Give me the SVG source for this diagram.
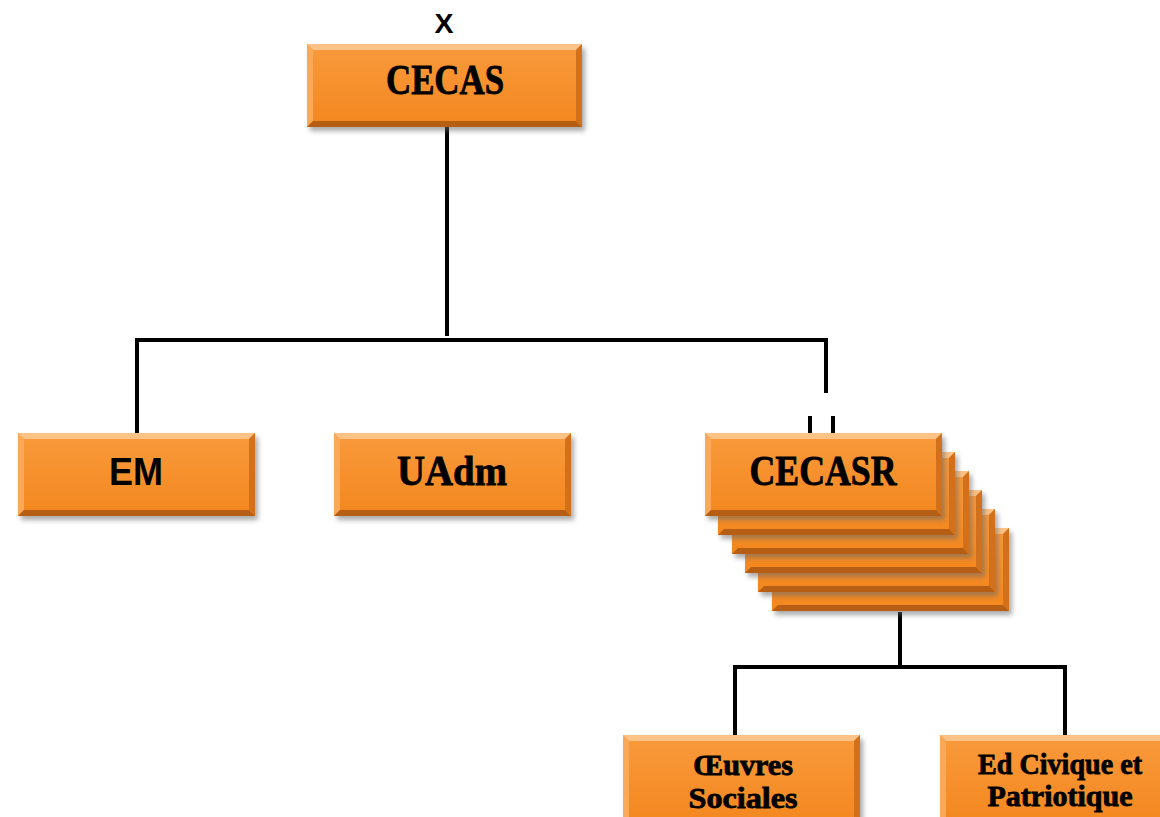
<svg xmlns="http://www.w3.org/2000/svg" width="1160" height="817" viewBox="0 0 1160 817">
<defs>
<linearGradient id="g" x1="0" y1="0" x2="0" y2="1">
<stop offset="0" stop-color="#F99A3C"/>
<stop offset="1" stop-color="#F3871E"/>
</linearGradient>
<filter id="sh" x="-10%" y="-10%" width="130%" height="140%">
<feGaussianBlur stdDeviation="2.5"/>
</filter>
</defs>
<style>
.sh{fill:#666;opacity:0.55;filter:url(#sh)}
.m{fill:url(#g)}
.bt{fill:#FDC285}
.bl{fill:#F9A957}
.br{fill:#D2701B}
.bb{fill:#B75E15}
.ln{stroke:#000;stroke-width:4;fill:none}
.ser{font-family:"Liberation Serif","DejaVu Serif",serif;font-weight:bold;fill:#000;text-anchor:middle;stroke:#000;stroke-width:0.8}
.san{font-family:"Liberation Sans","DejaVu Sans",sans-serif;font-weight:bold;fill:#000;text-anchor:middle}
</style>
<rect width="1160" height="817" fill="#fff"/>
<g id="connectors">
<path class="ln" d="M447 127V336M137 433V340H826V393"/>
<path class="ln" d="M810 416V438M833 416V438"/>
<path class="ln" d="M900 612V667M735 735V667H1065V735"/>
</g>
<g id="x-label"><text class="san" x="444" y="33" font-size="28" textLength="19" lengthAdjust="spacingAndGlyphs">X</text></g>
<g id="cecas">
<rect class="sh" x="310" y="48" width="275" height="83"/>
<rect class="m" x="307" y="44" width="275" height="83"/>
<polygon class="bt" points="307,44 582,44 576,50 313,50"/>
<polygon class="bl" points="307,44 313,50 313,121 307,127"/>
<polygon class="br" points="582,44 582,127 576,121 576,50"/>
<polygon class="bb" points="307,127 582,127 576,121 313,121"/>
<text class="ser" x="445" y="94" font-size="42" textLength="118" lengthAdjust="spacingAndGlyphs">CECAS</text>
</g>
<g id="em">
<rect class="sh" x="21" y="437" width="237" height="83"/>
<rect class="m" x="18" y="433" width="237" height="83"/>
<polygon class="bt" points="18,433 255,433 249,439 24,439"/>
<polygon class="bl" points="18,433 24,439 24,510 18,516"/>
<polygon class="br" points="255,433 255,516 249,510 249,439"/>
<polygon class="bb" points="18,516 255,516 249,510 24,510"/>
<text class="san" x="136" y="485" font-size="39" textLength="54" lengthAdjust="spacingAndGlyphs">EM</text>
</g>
<g id="uadm">
<rect class="sh" x="337" y="437" width="237" height="83"/>
<rect class="m" x="334" y="433" width="237" height="83"/>
<polygon class="bt" points="334,433 571,433 565,439 340,439"/>
<polygon class="bl" points="334,433 340,439 340,510 334,516"/>
<polygon class="br" points="571,433 571,516 565,510 565,439"/>
<polygon class="bb" points="334,516 571,516 565,510 340,510"/>
<text class="ser" x="452" y="485" font-size="42" textLength="110" lengthAdjust="spacingAndGlyphs">UAdm</text>
</g>
<g id="cecasr">
<rect class="sh" x="775" y="532" width="237" height="83"/>
<rect class="m" x="772" y="528" width="237" height="83"/>
<polygon class="bt" points="772,528 1009,528 1003,534 778,534"/>
<polygon class="br" points="1009,528 1009,611 1003,605 1003,534"/>
<polygon class="bb" points="772,611 1009,611 1003,605 778,605"/>
<rect class="sh" x="761" y="513" width="237" height="83"/>
<rect class="m" x="758" y="509" width="237" height="83"/>
<polygon class="bt" points="758,509 995,509 989,515 764,515"/>
<polygon class="br" points="995,509 995,592 989,586 989,515"/>
<polygon class="bb" points="758,592 995,592 989,586 764,586"/>
<rect class="sh" x="748" y="494" width="237" height="83"/>
<rect class="m" x="745" y="490" width="237" height="83"/>
<polygon class="bt" points="745,490 982,490 976,496 751,496"/>
<polygon class="br" points="982,490 982,573 976,567 976,496"/>
<polygon class="bb" points="745,573 982,573 976,567 751,567"/>
<rect class="sh" x="735" y="475" width="237" height="83"/>
<rect class="m" x="732" y="471" width="237" height="83"/>
<polygon class="bt" points="732,471 969,471 963,477 738,477"/>
<polygon class="br" points="969,471 969,554 963,548 963,477"/>
<polygon class="bb" points="732,554 969,554 963,548 738,548"/>
<rect class="sh" x="721" y="456" width="237" height="83"/>
<rect class="m" x="718" y="452" width="237" height="83"/>
<polygon class="bt" points="718,452 955,452 949,458 724,458"/>
<polygon class="br" points="955,452 955,535 949,529 949,458"/>
<polygon class="bb" points="718,535 955,535 949,529 724,529"/>
<rect class="sh" x="708" y="437" width="237" height="83"/>
<rect class="m" x="705" y="433" width="237" height="83"/>
<polygon class="bt" points="705,433 942,433 936,439 711,439"/>
<polygon class="bl" points="705,433 711,439 711,510 705,516"/>
<polygon class="br" points="942,433 942,516 936,510 936,439"/>
<polygon class="bb" points="705,516 942,516 936,510 711,510"/>
<text class="ser" x="823" y="485" font-size="42" textLength="147" lengthAdjust="spacingAndGlyphs">CECASR</text>
</g>
<g id="oeuvres">
<rect class="sh" x="626" y="739" width="237" height="90"/>
<rect class="m" x="623" y="735" width="237" height="90"/>
<polygon class="bt" points="623,735 860,735 854,741 629,741"/>
<polygon class="bl" points="623,735 629,741 629,825 623,825"/>
<polygon class="br" points="860,735 860,825 854,825 854,741"/>
<text class="ser" x="743" y="775" font-size="30" textLength="100" lengthAdjust="spacingAndGlyphs">Œuvres</text>
<text class="ser" x="743" y="808" font-size="30" textLength="109" lengthAdjust="spacingAndGlyphs">Sociales</text>
</g>
<g id="edcivique">
<rect class="sh" x="943" y="739" width="237" height="90"/>
<rect class="m" x="940" y="735" width="237" height="90"/>
<polygon class="bt" points="940,735 1177,735 1171,741 946,741"/>
<polygon class="bl" points="940,735 946,741 946,825 940,825"/>
<text class="ser" x="1060" y="774" font-size="30" textLength="164" lengthAdjust="spacingAndGlyphs">Ed Civique et</text>
<text class="ser" x="1060" y="806" font-size="30" textLength="145" lengthAdjust="spacingAndGlyphs">Patriotique</text>
</g>
</svg>
